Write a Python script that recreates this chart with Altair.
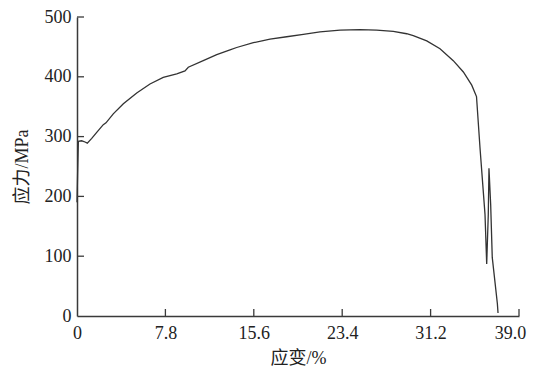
import altair as alt
import pandas as pd

strain = [0.0, 0.05, 0.12, 0.41, 0.71, 0.91, 1.30, 1.74, 2.32, 2.56, 3.20, 4.09, 5.27,
          6.44, 7.61, 8.80, 9.53, 9.82, 11.14, 12.33, 13.50, 14.09, 15.56, 17.03,
          18.50, 19.97, 21.44, 23.21, 24.97, 26.44, 27.91, 29.09, 29.67, 30.86,
          32.03, 33.20, 34.09, 34.83, 35.25, 35.56, 36.00, 36.15, 36.29, 36.35,
          36.50, 36.64, 37.09, 37.15]
stress = [190, 235, 292, 293, 291, 289, 297, 307, 320, 323, 338, 355, 373,
          388, 399, 405, 410, 416, 427, 437, 445, 449, 457, 463,
          467, 471, 475, 478, 479, 478, 476, 472, 469, 460,
          447, 427, 408, 386, 367, 281, 170, 87, 170, 247,
          187, 98, 21, 5]

x_ticks = [7.8, 15.6, 23.4, 31.2, 39.0]
y_ticks = [100, 200, 300, 400, 500]

FONT = "'Liberation Serif', 'Times New Roman', 'Noto Sans CJK SC', serif"
INK = "#3a3a3a"

df = pd.DataFrame({"strain": strain, "stress": stress, "i": range(len(strain))})

xscale = alt.Scale(domain=[0, 39], nice=False, zero=False)
yscale = alt.Scale(domain=[0, 500], nice=False)

curve = alt.Chart(df).mark_line(color="#333333", strokeWidth=1.3).encode(
    x=alt.X("strain:Q", scale=xscale,
            axis=alt.Axis(values=[0] + x_ticks, title="应变/%",
                          labelExpr="datum.value == 0 ? '0' : format(datum.value, '.1f')",
                          labelOffset={"condition": {"test": "datum.value >= 39", "value": -9},
                                       "value": 0})),
    y=alt.Y("stress:Q", scale=yscale,
            axis=alt.Axis(values=[0] + y_ticks, title="应力/MPa")),
    order="i:Q",
)

xt = alt.Chart(pd.DataFrame({"t": x_ticks})).mark_rule(color=INK, strokeWidth=1.3).encode(
    x=alt.X("t:Q", scale=xscale), y=alt.value(299), y2=alt.value(292)
)
yt = alt.Chart(pd.DataFrame({"t": y_ticks})).mark_rule(color=INK, strokeWidth=1.3).encode(
    y=alt.Y("t:Q", scale=yscale), x=alt.value(0), x2=alt.value(7)
)

chart = alt.layer(curve, xt, yt).properties(
    width=442, height=299,
    autosize=alt.AutoSizeParams(type="none"),
    padding={"left": 69, "top": 9, "right": 9, "bottom": 55},
).configure_view(stroke=None).configure_axis(
    grid=False, ticks=False, domainColor=INK, domainWidth=1.5,
    labelFont=FONT, labelFontSize=18, labelColor="#222222",
    titleFont=FONT, titleFontSize=18, titleColor="#222222", titleFontWeight="normal",
).configure_axisX(
    labelPadding=8, titlePadding=7, labelFlush=False,
).configure_axisY(
    labelPadding=6, titlePadding=13, labelFlush=False,
)

chart.save("out.html", embed_options={"renderer": "svg", "actions": False})
